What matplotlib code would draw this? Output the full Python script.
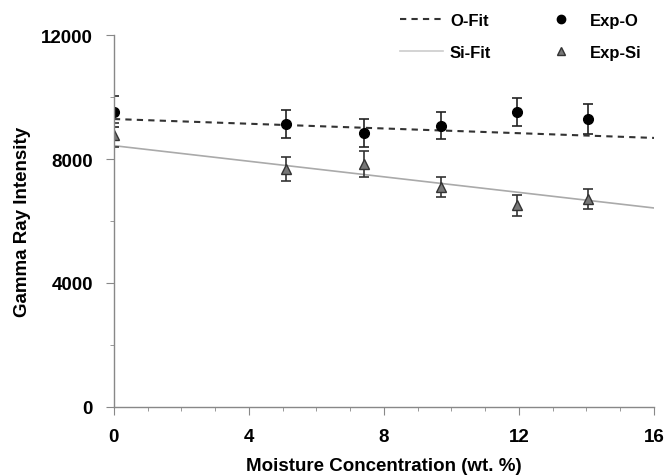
import matplotlib.pyplot as plt
from matplotlib.lines import Line2D
from matplotlib.ticker import MultipleLocator

plt.rcParams['font.family'] = ['Liberation Sans', 'DejaVu Sans']

moisture = [0, 5.1, 7.4, 9.7, 11.95, 14.05]
exp_o = [9530, 9120, 8840, 9080, 9510, 9290]
err_o = [500, 450, 460, 450, 460, 470]
exp_si = [8770, 7680, 7840, 7090, 6500, 6710]
err_si = [380, 380, 430, 330, 330, 330]

# Linear fits (end points)
fit_x = [0, 16]
o_fit = [9290, 8680]
si_fit = [8430, 6420]

fig = plt.figure(figsize=(6.66, 4.77), dpi=100)
ax = fig.add_axes([0.171, 0.1447, 0.811, 0.7798])

ax.plot(fit_x, o_fit, linestyle=(0, (3, 2.5)), color='#333333', lw=1.5)
ax.plot(fit_x, si_fit, linestyle='-', color='#aaaaaa', lw=1.2)

ax.errorbar(moisture, exp_o, yerr=err_o, fmt='o', color='black', ms=7,
            ecolor='#222222', elinewidth=1.2, capsize=3.5, capthick=1.2)
ax.errorbar(moisture, exp_si, yerr=err_si, fmt='^', color='#777777', mec='#333333',
            ms=7.5, ecolor='#333333', elinewidth=1.2, capsize=3.5, capthick=1.2)

ax.set_xlim(0, 16)
ax.set_ylim(0, 12000)
ax.xaxis.set_major_locator(MultipleLocator(4))
ax.xaxis.set_minor_locator(MultipleLocator(1))
ax.yaxis.set_major_locator(MultipleLocator(4000))
ax.yaxis.set_minor_locator(MultipleLocator(2000))

for s in ['top', 'right']:
    ax.spines[s].set_visible(False)
for s in ['left', 'bottom']:
    ax.spines[s].set_color('#888888')
    ax.spines[s].set_linewidth(1)

ax.tick_params(which='major', length=6, color='#888888', labelsize=13.5, pad=9)
ax.tick_params(which='minor', length=3, color='#888888')
for lbl in ax.get_xticklabels() + ax.get_yticklabels():
    lbl.set_fontweight('bold')

ax.set_xlabel('Moisture Concentration (wt. %)', fontsize=13.5, fontweight='bold', labelpad=9)
ax.set_ylabel('Gamma Ray Intensity', fontsize=13.5, fontweight='bold', labelpad=7)

handles = [
    Line2D([], [], linestyle=(0, (3, 2.5)), color='#333333', lw=1.5),
    Line2D([], [], linestyle='-', color='#cccccc', lw=1.2),
    Line2D([], [], linestyle='none', marker='o', color='black', ms=6),
    Line2D([], [], linestyle='none', marker='^', color='#777777', mec='#333333', ms=5.5),
]
labels = ['O-Fit', 'Si-Fit', 'Exp-O', 'Exp-Si']
fig.legend(handles, labels, ncol=2, loc='upper left',
           bbox_to_anchor=(400 / 666, 1 - 14 / 477), bbox_transform=fig.transFigure,
           frameon=False, borderpad=0, borderaxespad=0,
           prop={'weight': 'bold', 'size': 12}, columnspacing=2.9, handlelength=2.6,
           handletextpad=0.4, labelspacing=1.0)

fig.savefig('out.png', dpi=100)
